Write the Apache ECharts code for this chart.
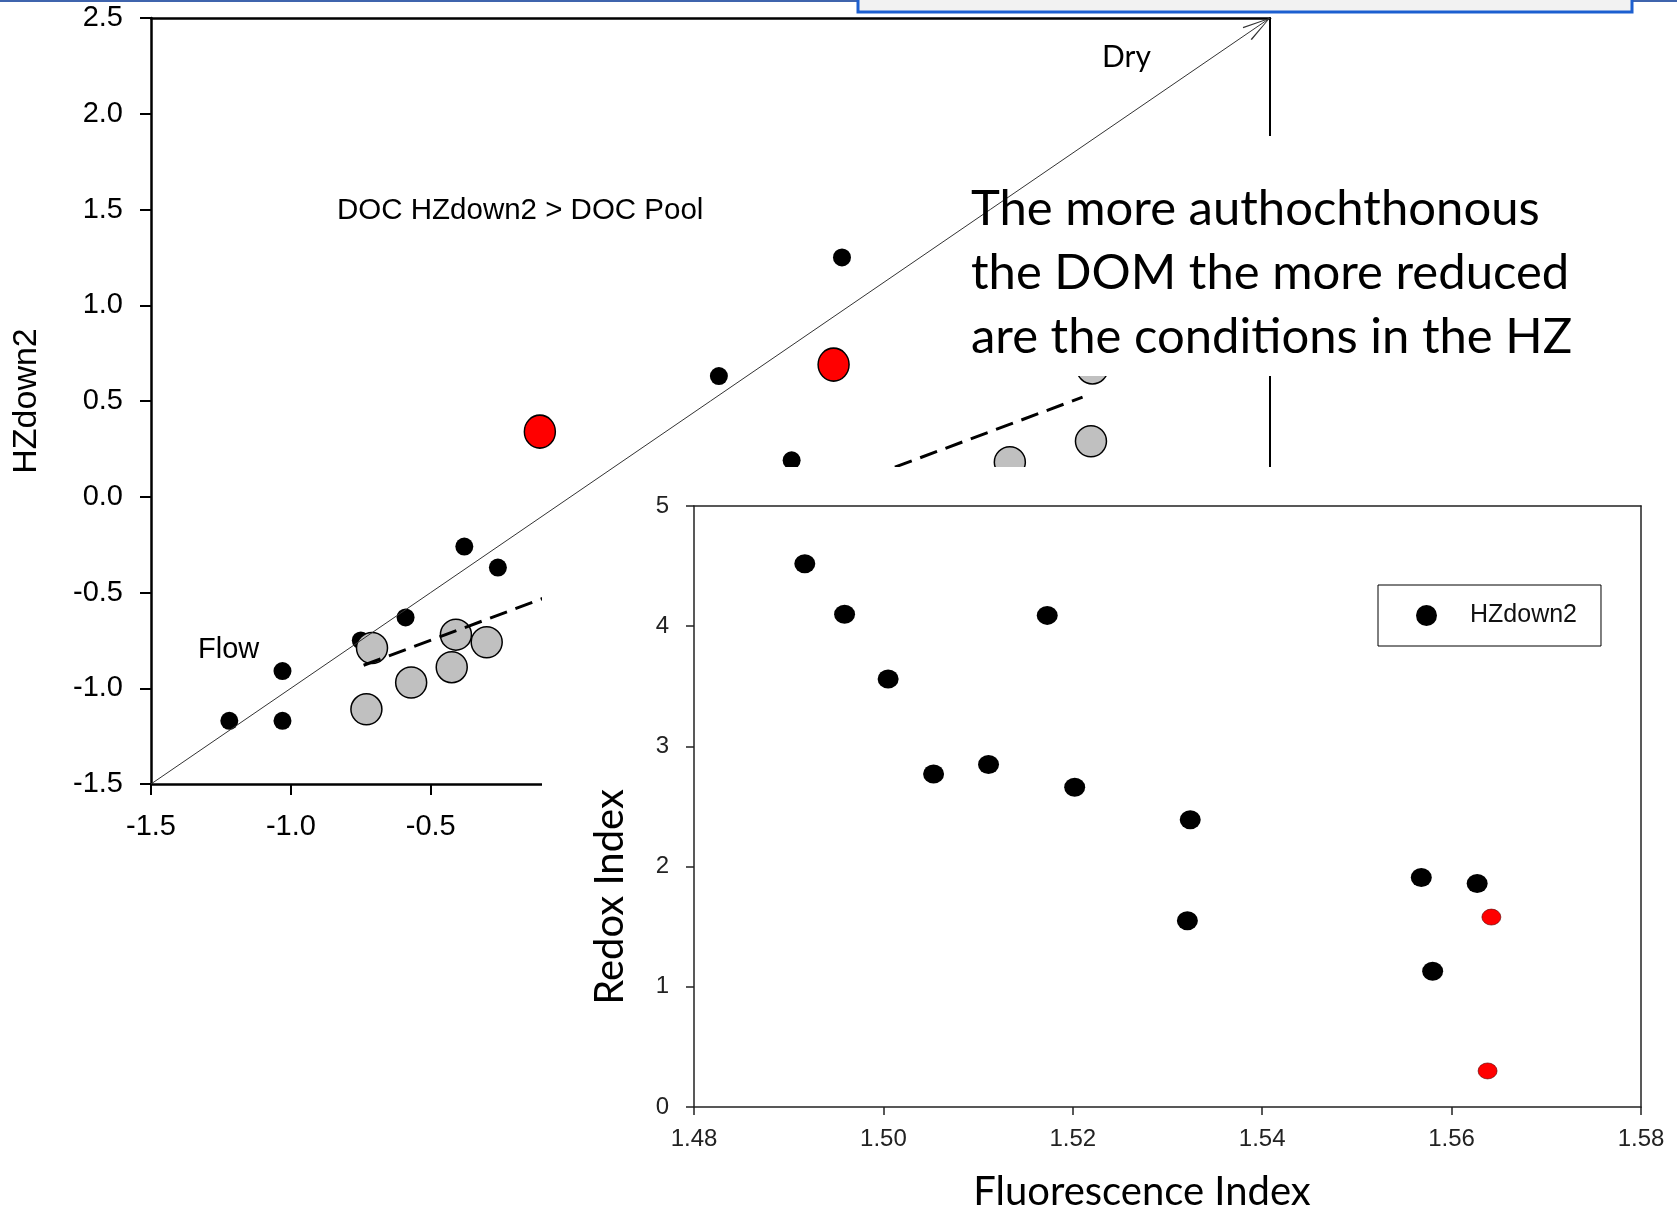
<!DOCTYPE html>
<html>
<head>
<meta charset="utf-8">
<title>HZdown2 / Redox vs Fluorescence</title>
<script src="https://cdn.jsdelivr.net/npm/echarts@6/dist/echarts.min.js"></script>
<style>
  html, body { margin: 0; padding: 0; background: #fff; }
  #chart { width: 1677px; height: 1214px; }
</style>
</head>
<body>
<div id="chart"></div>
<script>
// ---- background plot: HZdown2 vs pool ----
const mainTicks = [-1.5, -1.0, -0.5, 0.0, 0.5, 1.0, 1.5, 2.0, 2.5];

const blackX = [-1.22, -1.03, -1.03, -0.75, -0.59, -0.38, -0.26, 0.53, 0.79, 0.97];
const blackY = [-1.17, -0.91, -1.17, -0.75, -0.63, -0.26, -0.37, 0.63, 0.19, 1.25];

const redX = [-0.11, 0.94];
const redY = [0.34, 0.69];

const greyX = [-0.73, -0.71, -0.57, -0.425, -0.41, -0.30, 1.57, 1.86, 1.865];
const greyY = [-1.11, -0.79, -0.97, -0.89, -0.72, -0.76, 0.18, 0.29, 0.67];

// dashed regression line of the grey points
const fitX = [-0.74, 1.83];
const fitY = [-0.88, 0.52];

// 1:1 line
const oneX = [-1.5, 2.5];
const oneY = [-1.5, 2.5];

// ---- inset: Redox Index vs Fluorescence Index ----
const fiTicks = [1.48, 1.50, 1.52, 1.54, 1.56, 1.58];
const redoxTicks = [0, 1, 2, 3, 4, 5];

const fiBlack = [1.4917, 1.4959, 1.5005, 1.5053, 1.5111, 1.5173, 1.5202, 1.5324, 1.5321, 1.5568, 1.5580, 1.5627];
const redoxBlack = [4.52, 4.10, 3.56, 2.77, 2.85, 4.09, 2.66, 2.39, 1.55, 1.91, 1.13, 1.86];

const fiRed = [1.5642, 1.5638];
const redoxRed = [1.58, 0.30];

const pair = (xs, ys) => xs.map((x, i) => [x, ys[i]]);

const ARIAL = '"Liberation Sans", Arial, sans-serif';
const CAL = 'Lato, "Open Sans", sans-serif';

// open arrow head, tip at the symbol centre
const arrowHead = 'path://M0,-15L0.01,-15Z M0,0L-4,15L-3.3,15.3L0,1.6L3.3,15.3L4,15Z';

// plain frame line for top/right sides
const frame = (color, width) => ({ onZero: false, lineStyle: { color: color, width: width } });

const chart = echarts.init(document.getElementById('chart'));

chart.setOption({
  animation: false,
  backgroundColor: '#fff',
  grid: [
    { left: 151, top: 18, width: 1119, height: 766 },
    { left: 694, top: 506, width: 947, height: 601 }
  ],
  xAxis: [
    {
      gridIndex: 0, type: 'value', position: 'bottom',
      min: mainTicks[0], max: mainTicks[mainTicks.length - 1], interval: 0.5,
      axisLine: frame('#000', 2.5),
      axisTick: { length: 11, lineStyle: { color: '#000', width: 2 } },
      axisLabel: { margin: 28, fontFamily: ARIAL, fontSize: 29, color: '#000',
                   formatter: v => v.toFixed(1) },
      splitLine: { show: false }
    },
    {
      gridIndex: 0, type: 'value', position: 'top',
      min: mainTicks[0], max: mainTicks[mainTicks.length - 1],
      axisLine: frame('#000', 2.5),
      axisTick: { show: false }, axisLabel: { show: false }, splitLine: { show: false }
    },
    {
      gridIndex: 1, type: 'value', position: 'bottom', z: 10,
      min: fiTicks[0], max: fiTicks[fiTicks.length - 1], interval: 0.02,
      axisLine: frame('#222', 1.5),
      axisTick: { length: 8, lineStyle: { color: '#222', width: 1.5 } },
      axisLabel: { margin: 20, fontFamily: ARIAL, fontSize: 24, color: '#222',
                   formatter: v => v.toFixed(2) },
      splitLine: { show: false }
    },
    {
      gridIndex: 1, type: 'value', position: 'top', z: 10,
      min: fiTicks[0], max: fiTicks[fiTicks.length - 1],
      axisLine: frame('#222', 1.5),
      axisTick: { show: false }, axisLabel: { show: false }, splitLine: { show: false }
    }
  ],
  yAxis: [
    {
      gridIndex: 0, type: 'value', position: 'left',
      min: mainTicks[0], max: mainTicks[mainTicks.length - 1], interval: 0.5,
      axisLine: frame('#000', 2.5),
      axisTick: { length: 11, lineStyle: { color: '#000', width: 2 } },
      axisLabel: { margin: 28, fontFamily: ARIAL, fontSize: 29, color: '#000',
                   formatter: v => v.toFixed(1) },
      splitLine: { show: false }
    },
    {
      gridIndex: 0, type: 'value', position: 'right',
      min: mainTicks[0], max: mainTicks[mainTicks.length - 1],
      axisLine: frame('#000', 2),
      axisTick: { show: false }, axisLabel: { show: false }, splitLine: { show: false }
    },
    {
      gridIndex: 1, type: 'value', position: 'left', z: 10,
      min: redoxTicks[0], max: redoxTicks[redoxTicks.length - 1], interval: 1,
      axisLine: frame('#222', 1.5),
      axisTick: { length: 8, lineStyle: { color: '#222', width: 1.5 } },
      axisLabel: { margin: 25, fontFamily: ARIAL, fontSize: 24, color: '#222' },
      splitLine: { show: false }
    },
    {
      gridIndex: 1, type: 'value', position: 'right', z: 10,
      min: redoxTicks[0], max: redoxTicks[redoxTicks.length - 1],
      axisLine: frame('#222', 1.5),
      axisTick: { show: false }, axisLabel: { show: false }, splitLine: { show: false }
    }
  ],
  legend: {
    data: ['HZdown2'],
    left: 1378, top: 585, z: 12,
    orient: 'vertical',
    backgroundColor: '#fff',
    borderColor: '#000', borderWidth: 1,
    padding: [18, 24, 18, 38],
    icon: 'circle', itemWidth: 21, itemHeight: 21,
    textStyle: { fontFamily: ARIAL, fontSize: 25, color: '#111', padding: [0, 0, 0, 28] }
  },
  series: [
    {
      name: 'pool black', type: 'scatter', xAxisIndex: 0, yAxisIndex: 0,
      data: pair(blackX, blackY), symbolSize: 18,
      itemStyle: { color: '#000', opacity: 1 }, silent: true
    },
    {
      name: 'pool grey', type: 'scatter', xAxisIndex: 0, yAxisIndex: 0,
      data: pair(greyX, greyY), symbolSize: 31,
      itemStyle: { color: '#c0c0c0', borderColor: '#000', borderWidth: 1.5, opacity: 1 }, silent: true
    },
    {
      name: 'pool red', type: 'scatter', xAxisIndex: 0, yAxisIndex: 0,
      data: pair(redX, redY), symbolSize: [31, 33],
      itemStyle: { color: '#ff0000', borderColor: '#000', borderWidth: 1.5, opacity: 1 }, silent: true
    },
    {
      name: 'fit', type: 'line', xAxisIndex: 0, yAxisIndex: 0,
      data: pair(fitX, fitY), showSymbol: false, symbol: 'none',
      lineStyle: { color: '#000', width: 3, type: [18, 9] }, silent: true
    },
    {
      name: 'one to one', type: 'line', xAxisIndex: 0, yAxisIndex: 0,
      data: [], silent: true,
      markLine: {
        silent: true, animation: false,
        symbol: ['none', arrowHead], symbolSize: [16, 56],
        lineStyle: { color: '#333', width: 1, type: 'solid' },
        label: { show: false },
        data: [[{ coord: [oneX[0], oneY[0]] }, { coord: [oneX[1], oneY[1]] }]]
      }
    },
    {
      name: 'HZdown2', type: 'scatter', xAxisIndex: 2, yAxisIndex: 2, z: 12,
      data: pair(fiBlack, redoxBlack), symbolSize: [21, 19],
      itemStyle: { color: '#000', opacity: 1 }
    },
    {
      name: 'HZdown2 red', type: 'scatter', xAxisIndex: 2, yAxisIndex: 2, z: 12,
      data: pair(fiRed, redoxRed), symbolSize: [19, 16],
      itemStyle: { color: '#ff0000', borderColor: '#500', borderWidth: 0.6, opacity: 1 }
    }
  ],
  graphic: [
    // slide header strip + blue text frame
    { type: 'rect', z: 20, shape: { x: 0, y: 0, width: 1677, height: 2 }, style: { fill: '#3f64ad' } },
    { type: 'rect', z: 21, shape: { x: 858, y: -10, width: 774, height: 22 },
      style: { fill: '#f2f2f2', stroke: '#1c5fd0', lineWidth: 3 } },
    // white box behind the statement
    { type: 'rect', z: 5, shape: { x: 950, y: 136, width: 700, height: 240 }, style: { fill: '#fff' } },
    // white panel of the inset
    { type: 'rect', z: 5, shape: { x: 542, y: 467, width: 1135, height: 747 }, style: { fill: '#fff' } },
    { type: 'text', z: 6, x: 971, y: 177,
      style: { text: 'The more authochthonous\nthe DOM the more reduced\nare the conditions in the HZ',
               font: '49px ' + CAL, fill: '#000', lineHeight: 64,
               textAlign: 'left', align: 'left', textVerticalAlign: 'top', verticalAlign: 'top' } },
    { type: 'text', z: 6, x: 1102, y: 57,
      style: { text: 'Dry', font: '30px ' + CAL, fill: '#000',
               textAlign: 'left', align: 'left', textVerticalAlign: 'middle', verticalAlign: 'middle' } },
    { type: 'text', z: 3, x: 337, y: 211,
      style: { text: 'DOC HZdown2 > DOC Pool', font: '29.5px ' + ARIAL, fill: '#000',
               textAlign: 'left', align: 'left', textVerticalAlign: 'middle', verticalAlign: 'middle' } },
    { type: 'text', z: 3, x: 198, y: 650,
      style: { text: 'Flow', font: '29px ' + ARIAL, fill: '#000',
               textAlign: 'left', align: 'left', textVerticalAlign: 'middle', verticalAlign: 'middle' } },
    { type: 'text', z: 3, x: 27, y: 401, rotation: Math.PI / 2,
      style: { text: 'HZdown2', font: '34px ' + ARIAL, fill: '#000',
               textAlign: 'center', align: 'center', textVerticalAlign: 'middle', verticalAlign: 'middle' } },
    { type: 'text', z: 12, x: 610, y: 897, rotation: Math.PI / 2,
      style: { text: 'Redox Index', font: '40px ' + CAL, fill: '#000',
               textAlign: 'center', align: 'center', textVerticalAlign: 'middle', verticalAlign: 'middle' } },
    { type: 'text', z: 12, x: 1142, y: 1192,
      style: { text: 'Fluorescence Index', font: '40px ' + CAL, fill: '#000',
               textAlign: 'center', align: 'center', textVerticalAlign: 'middle', verticalAlign: 'middle' } }
  ]
});
</script>
</body>
</html>
